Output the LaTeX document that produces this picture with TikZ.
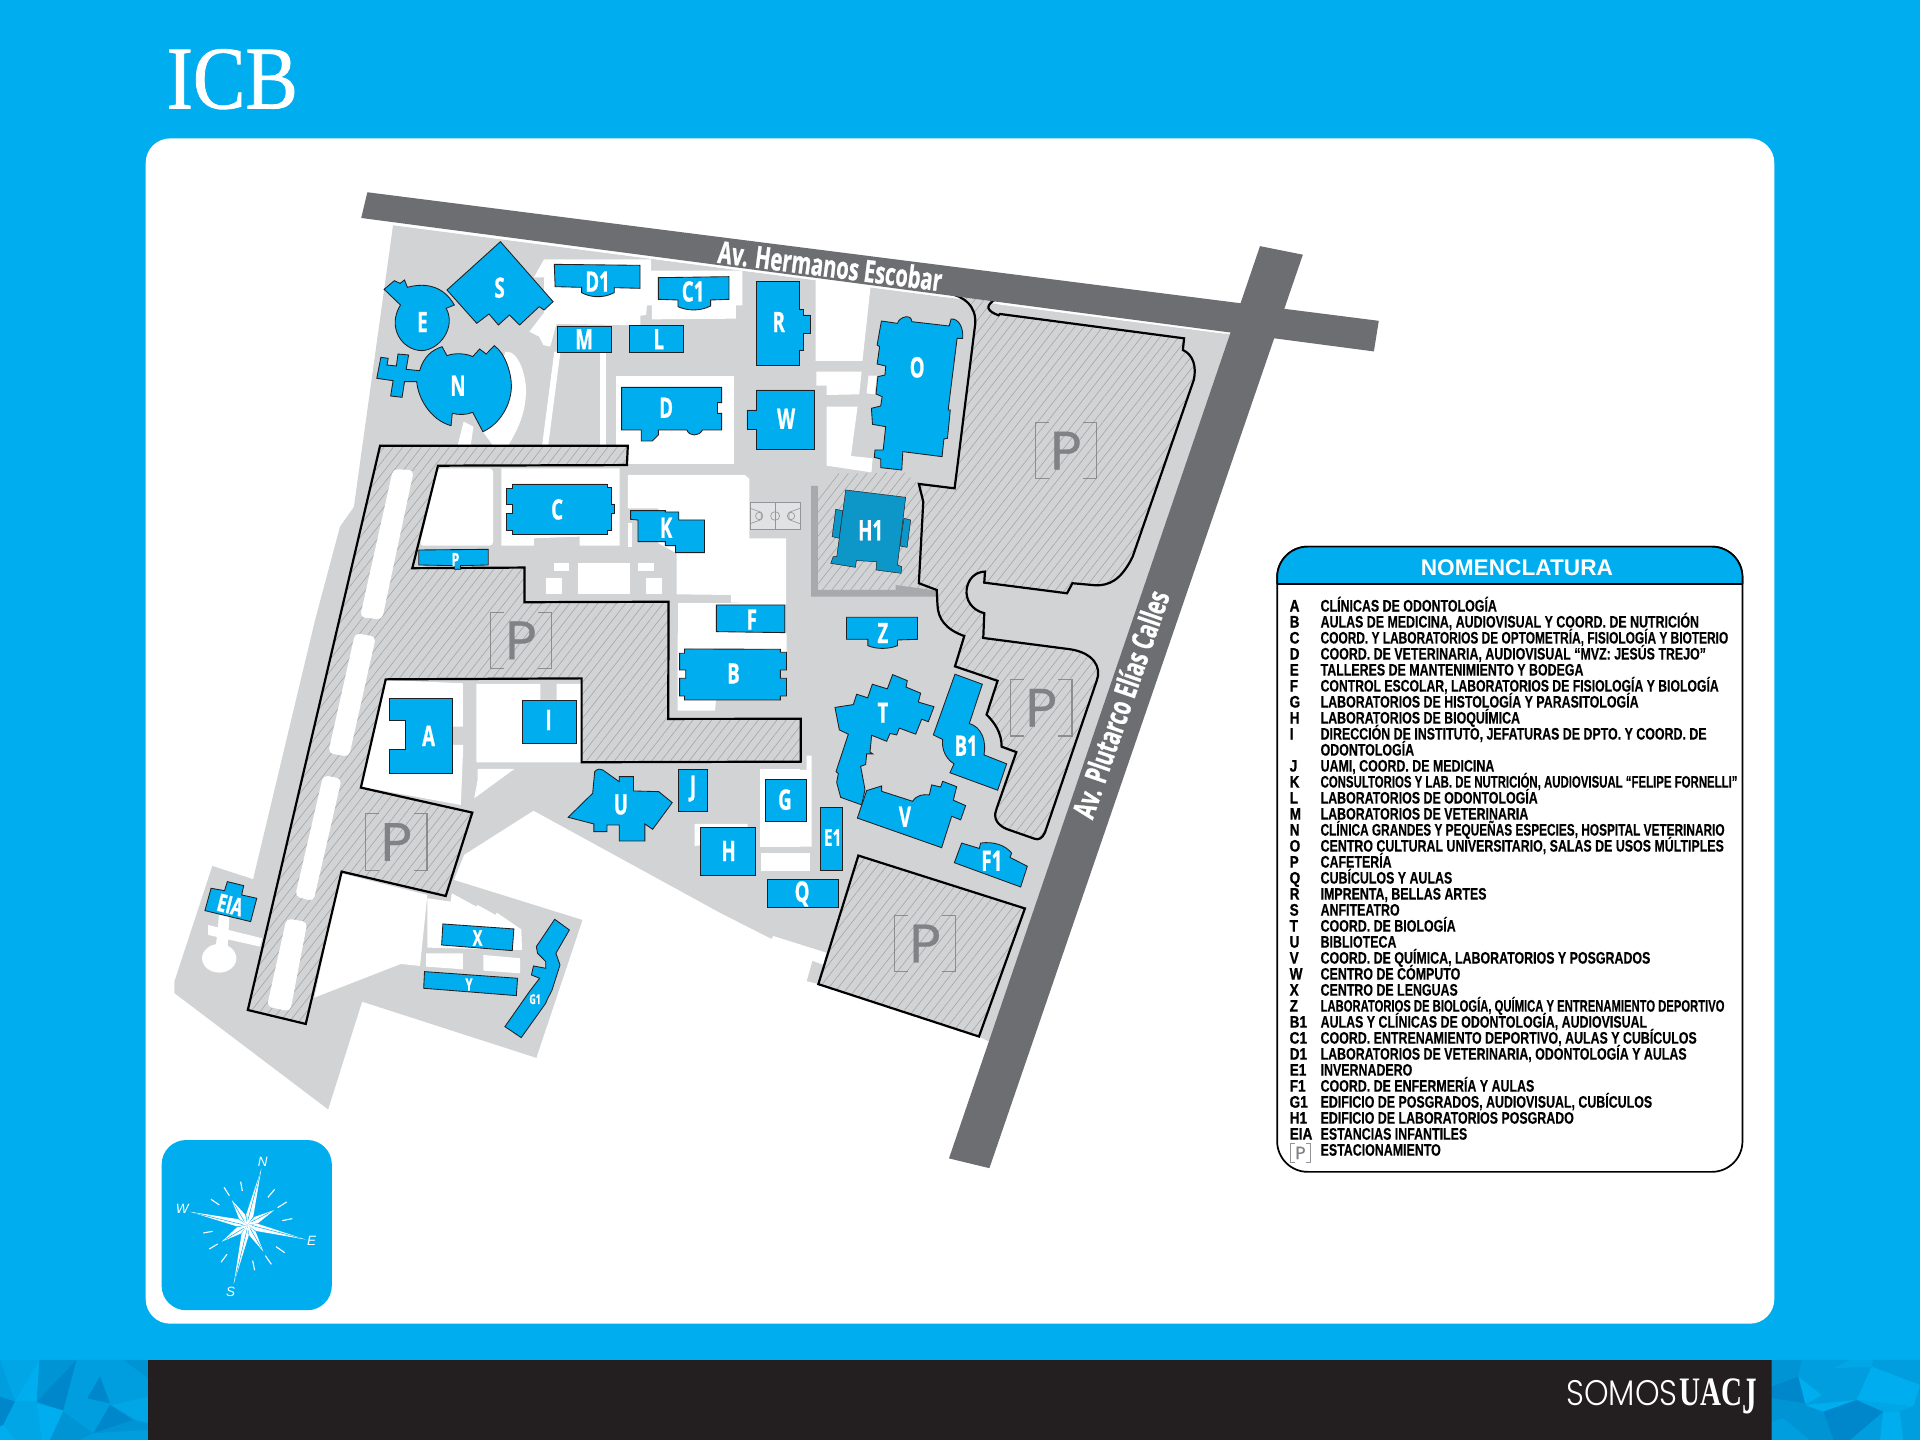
\documentclass[tikz,border=0pt]{standalone}
\usepackage{fontspec}
\usetikzlibrary{patterns.meta}
\setmainfont{Liberation Sans}
\newfontfamily\mapfont[FakeStretch=0.66,FakeBold=0.8]{Open Sans}
\newfontfamily\listfont[FakeStretch=0.745,FakeBold=0.3]{Liberation Sans}
\newfontfamily\keyfont[FakeStretch=0.82,FakeBold=0.8]{Liberation Sans}
\newfontfamily\logofont[FakeStretch=0.88,FakeBold=0.9]{Liberation Serif}
\newfontfamily\uacjfont[FakeStretch=0.72]{Liberation Serif}
\newfontfamily\somosfont[FakeStretch=0.88]{Poppins Light}
\newfontfamily\signfont[FakeBold=0.6]{Poppins}
\newcommand{\rowfit}[2]{\scalebox{#1}[1]{#2}}
\definecolor{campusblue}{HTML}{00AEEF}
\definecolor{annexblue}{HTML}{0D97C9}
\definecolor{sitegray}{HTML}{D1D3D4}
\definecolor{roadgray}{HTML}{6D6E71}
\definecolor{wallgray}{HTML}{A7A9AC}
\definecolor{hatchgray}{HTML}{A4A6A8}
\definecolor{courtgray}{HTML}{939598}
\definecolor{signgray}{HTML}{808285}
\definecolor{barblack}{HTML}{231F20}
\definecolor{facetA}{HTML}{00AEEF}
\definecolor{facetB}{HTML}{00A6E6}
\definecolor{facetC}{HTML}{009EDE}
\definecolor{facetD}{HTML}{0094D5}
\definecolor{facetE}{HTML}{0086CA}
\tikzset{
    lawn/.style={fill=white},
    building/.style={fill=campusblue,draw=barblack,line width=.7pt},
    annex/.style={fill=annexblue,draw=barblack,line width=.4pt},
    hatched/.style={preaction={fill=sitegray},pattern={Lines[angle=52,distance=6pt,line width=.5pt]},pattern color=hatchgray},
    parking/.style={hatched,draw=black,line width=1.8pt,line join=miter},
    strip/.style={fill=white,rounded corners=4pt},
    blocklabel/.style={text=white,font=\mapfont\bfseries\fontsize{23}{23}\selectfont,inner sep=0pt},
    roadlabel/.style={text=white,font=\mapfont\bfseries\fontsize{25}{26}\selectfont,inner sep=0pt},
    legendkey/.style={anchor=base west,inner sep=0pt,font=\keyfont\bfseries\fontsize{13.6}{14}\selectfont},
    legendrow/.style={anchor=base west,inner sep=0pt,font=\listfont\bfseries\fontsize{13.6}{14}\selectfont},
    upperzone/.style={shift={(277.7,147)},xscale=.3333,yscale=.2722},
    lowerzone/.style={shift={(130.7,506.3)},xscale=.3333,yscale=.2722},
    eastzone/.style={shift={(620.7,196)},xscale=.2915,yscale=.2722},
    southzone/.style={shift={(588,506.3)},xscale=.2722,yscale=.2915},
    pics/parksign/.style={code={
        \draw[signgray,line width=1pt,opacity=.85] (-14,-23) -- (-25,-23) -- (-25,23) -- (-14,23);
        \draw[signgray,line width=1pt,opacity=.85] (14,-23) -- (25,-23) -- (25,23) -- (14,23);
        \node[transform shape,text=signgray,inner sep=0pt,font=\signfont\fontsize{44}{44}\selectfont] at (0,0) {P};
    }}
}

\begin{document}
\begin{tikzpicture}[x=1pt,y=-1pt]
    \useasboundingbox (0,0) rectangle (1568,1176);
    \fill[campusblue] (0,0) rectangle (1568,1176);

    % bottom band
    \fill[barblack] (121,1111) rectangle (1447,1176);
    \begin{scope}[shift={(0,1094.3)},scale=.2722]
        \fill[facetC] (0,60) rectangle (444,300);
        \fill[facetC] (0,60) -- (45,185) -- (0,170) -- cycle;
        \fill[facetB] (0,60) -- (118,60) -- (45,185) -- cycle;
        \fill[facetD] (118,60) -- (230,60) -- (110,185) -- cycle;
        \fill[facetE] (230,60) -- (190,212) -- (110,185) -- cycle;
        \fill[facetA] (118,60) -- (110,185) -- (45,185) -- cycle;
        \fill[facetC] (230,60) -- (370,60) -- (340,110) -- (260,170) -- (190,212) -- cycle;
        \fill[facetE] (0,170) -- (45,185) -- (10,255) -- (0,260) -- cycle;
        \fill[facetB] (45,185) -- (110,185) -- (125,300) -- (45,300) -- (10,255) -- cycle;
        \fill[facetA] (110,190) -- (190,212) -- (150,300) -- (125,300) -- cycle;
        \fill[facetD] (190,215) -- (280,280) -- (240,300) -- (150,300) -- cycle;
        \fill[facetA] (0,260) -- (10,255) -- (45,300) -- (0,300) -- cycle;
        \fill[facetE] (300,110) -- (330,190) -- (262,175) -- cycle;
        \fill[facetC] (190,212) -- (330,190) -- (280,280) -- cycle;
        \fill[facetD] (370,60) -- (444,115) -- (444,60) -- cycle;
        \fill[facetC] (370,70) -- (444,115) -- (444,170) -- (335,195) -- cycle;
        \fill[facetB] (335,195) -- (444,170) -- (444,250) -- (410,240) -- cycle;
        \fill[facetE] (330,195) -- (400,240) -- (280,280) -- cycle;
        \fill[facetD] (400,240) -- (444,250) -- (444,270) -- (280,280) -- cycle;
        \fill[facetC] (280,280) -- (444,270) -- (444,300) -- (240,300) -- cycle;
    \end{scope}
    \begin{scope}[shift={(1225,1094.3)},scale=.2722]
        \fill[facetC] (815,60) rectangle (1260,300);
        \fill[facetD] (815,60) -- (905,60) -- (895,110) -- (815,140) -- cycle;
        \fill[facetC] (905,60) -- (1050,60) -- (1000,85) -- (895,110) -- cycle;
        \fill[facetB] (1050,60) -- (1120,60) -- (1115,80) -- (1000,85) -- cycle;
        \fill[facetC] (1120,60) -- (1260,60) -- (1260,135) -- (1115,80) -- cycle;
        \fill[facetA] (1115,80) -- (1260,135) -- (1240,200) -- (1070,180) -- cycle;
        \fill[facetA] (895,110) -- (965,165) -- (915,195) -- cycle;
        \fill[facetE] (815,140) -- (895,110) -- (915,190) -- (815,175) -- cycle;
        \fill[facetD] (815,175) -- (915,190) -- (970,215) -- (850,235) -- (815,245) -- cycle;
        \fill[facetA] (915,195) -- (1070,180) -- (1040,215) -- (970,215) -- cycle;
        \fill[facetE] (970,215) -- (1070,180) -- (1150,215) -- (1050,300) -- (1000,300) -- cycle;
        \fill[facetB] (1070,180) -- (1240,200) -- (1200,215) -- (1150,215) -- cycle;
        \fill[facetA] (1150,215) -- (1200,215) -- (1210,300) -- (1140,300) -- cycle;
        \fill[facetC] (1200,215) -- (1240,200) -- (1260,260) -- (1260,300) -- (1210,300) -- cycle;
        \fill[facetC] (815,245) -- (850,235) -- (930,300) -- (815,300) -- cycle;
        \fill[facetD] (850,235) -- (970,215) -- (1000,300) -- (930,300) -- cycle;
    \end{scope}
    \node[anchor=base west,inner sep=0pt,text=white,font=\somosfont\fontsize{29}{29}\selectfont] (somos) at (1279,1148) {SOMOS};
    \node[anchor=base west,inner sep=0pt,text=white,font=\uacjfont\bfseries\fontsize{33}{33}\selectfont] (uacj) at (1371,1148) {UAC\raisebox{-6pt}{\scalebox{1}[1.3]{J}}};

    % panel and logo
    \fill[white,rounded corners=20pt] (119,113) rectangle (1449,1081);
    \node[anchor=base west,inner sep=0pt,text=white,font=\logofont\fontsize{73}{73}\selectfont] (logo) at (136,88.5) {ICB};

    % site ground
    \fill[sitegray] (321,184) -- (1005,273) -- (809,851) -- (799,846.5) -- (668.3,803.7) -- (675,778)
        -- (631.5,764.3) -- (630,766.7) -- (588,745.4) -- (435.7,662) -- (379,698) -- (370.7,718.6)
        -- (475.7,751.3) -- (438,863.9) -- (295.7,818) -- (268,906) -- (142.4,811) -- (142.4,801.6)
        -- (173.4,707.2) -- (206.7,718) -- (257.4,506) -- (277.7,430) -- (289,414) -- cycle;
    \fill[sitegray] (658.8,801.3) -- (663.5,784.7) -- (675,789) -- (670,804) -- cycle;

    % lawns
    \begin{scope}[upperzone]
        \fill[lawn] (500,238) -- (762,238) -- (762,272) -- (986,272) -- (986,376) -- (970,376) -- (970,416) -- (764,418) -- (764,376) -- (752,376) -- (750,405) -- (736,407) -- (736,436) -- (530,432) -- (515,500) -- (498,495) -- (488,470) -- (464,455) -- (500,398) -- (500,292) -- (475,292) -- cycle;
        \fill[lawn] (525,515) -- (540,515) -- (510,797) -- (495,797) -- cycle;
        \fill[lawn] (638,515) -- (652,515) -- (652,797) -- (638,797) -- cycle;
        \fill[lawn] (405,515) .. controls (440,510) and (460,600) .. (455,650) .. controls (452,710) and (430,760) .. (412,797) -- (375,797) -- (350,755) -- cycle;
        \fill[lawn] (303,725) -- (327,740) -- (320,797) -- (288,797) -- cycle;
        \fill[lawn] (675,587) rectangle (965,853);
        \fill[lawn] (1165,300) -- (1300,318) -- (1280,543) -- (1165,543) -- cycle;
        \fill[lawn] (1167,575) -- (1278,575) -- (1272,643) -- (1192,645) -- (1192,617) -- (1167,617) -- cycle;
        \fill[lawn] (1295,587) -- (1315,587) -- (1310,643) -- (1290,640) -- cycle;
        \fill[lawn] (1192,680) -- (1268,680) -- (1252,828) -- (1305,835) -- (1302,877) -- (1192,857) -- cycle;
        \fill[lawn] (705,885) -- (992,885) -- (1003,897) -- (1003,1075) -- (1093,1075) -- (1093,1270) -- (958,1268) -- (958,1245) -- (825,1243) -- (825,1120) -- (780,1090) -- (780,985) -- (705,985) -- cycle;
        \fill[lawn] (705,1030) rectangle (715,1100);
        \fill[lawn] (827,1268) -- (1093,1268) -- (1093,1455) -- (827,1455) -- cycle;
        \fill[lawn] (395,865) -- (685,865) -- (685,1097) -- (587,1097) -- (587,1070) -- (475,1075) -- (475,1097) -- (395,1097) -- cycle;
        \fill[lawn,rounded corners=3pt] (240,865) -- (375,865) -- (375,1097) -- (195,1097) -- cycle;
        \fill[lawn] (525,1148) rectangle (560,1173);
        \fill[lawn] (582,1148) rectangle (710,1243);
        \fill[lawn] (730,1148) rectangle (770,1173);
        \fill[lawn] (505,1195) rectangle (543,1243);
        \fill[lawn] (750,1195) rectangle (790,1243);
    \end{scope}
    \begin{scope}[lowerzone]
        \fill[lawn] (1268,40) -- (1535,40) -- (1535,110) -- (1362,240) -- (1360,272) -- (1268,272) -- cycle;
        \fill[lawn] (553,180) -- (742,190) -- (742,320) -- (716,320) -- (716,375) -- (743,375) -- (737,555) -- (492,500) -- cycle;
        \fill[lawn] (775,192) -- (932,192) -- (932,240) -- (972,240) -- (972,192) -- (1033,192) -- (1033,427) -- (775,427) -- cycle;
        \fill[lawn] (778,447) -- (868,447) -- (770,535) -- (778,480) -- cycle;
        \fill[lawn] (443,760) -- (378,1133) -- (590,1032) -- (637,1038) -- (655,825) -- cycle;
        \fill[lawn] (655,835) -- (712,845) -- (715,820) -- (775,860) -- (778,855) -- (822,885) -- (825,878) -- (885,928) -- (887,990) -- (655,983) -- cycle;
        \fill[lawn] (652,1000) -- (742,1000) -- (742,1048) -- (652,1040) -- cycle;
        \fill[lawn] (792,1005) -- (882,1015) -- (882,1060) -- (792,1052) -- cycle;
        \fill[lawn] (145,1015) circle[x radius=42,y radius=43];
        \fill[lawn] (118,915) -- (250,955) -- (245,980) -- (118,945) -- cycle;
        \fill[lawn] (145,880) -- (170,885) -- (165,1000) -- (135,1000) -- cycle;
        \fill[lawn] (1310,612) -- (1440,612) -- (1440,660) -- (1310,678) -- cycle;
        \fill[lawn] (1470,448) -- (1568,448) -- (1568,682) -- (1470,682) -- cycle;
        \fill[lawn] (1472,698) -- (1568,698) -- (1568,752) -- (1472,752) -- cycle;
    \end{scope}
    \begin{scope}[southzone]
        \fill[lawn] (122,420) -- (260,420) -- (260,380) -- (275,380) -- (275,635) -- (122,635) -- cycle;
        \fill[lawn] (122,652) -- (270,652) -- (270,702) -- (122,702) -- cycle;
    \end{scope}

    % annex yard
    \begin{scope}[eastzone]
        \fill[hatched] (162,770) -- (215,700) -- (316,700) -- (400,692) -- (445,735) -- (458,785) -- (445,1030) -- (495,1052) -- (380,1035) -- (380,1050) -- (162,1050) -- cycle;
        \fill[wallgray] (143,738) -- (162,738) -- (162,1050) -- (380,1050) -- (380,1035) -- (495,1052) -- (495,1070) -- (143,1070) -- cycle;
    \end{scope}

    % parkings
    \draw[parking] (310.4,364) -- (512.7,364) -- (512,379.8) -- (357.7,380.3) -- (336.7,464) -- (428.4,463.5)
        -- (428.4,491.8) -- (546,491.4) -- (545.7,587.1) -- (654,587) -- (654,622) -- (475,622.5) -- (475,554)
        -- (315,554.8) -- (294.7,643.2) -- (385.7,663.6) -- (364,731.7) -- (279,711.8) -- (249.7,836.2)
        -- (202.4,824.8) -- cycle;
    \fill[strip] (321,383) -- (338,384) -- (312,506) -- (294,504) -- cycle;
    \fill[strip] (290,517) -- (307,520) -- (285,618) -- (268,615) -- cycle;
    \fill[strip] (264,633) -- (279,636) -- (256,736) -- (241,732) -- cycle;
    \fill[strip] (234,750) -- (251,753) -- (237,826) -- (218,822) -- cycle;
    \draw[parking] (773.8,239.5) -- (813,244.4) .. controls (804,250) and (806,254) .. (815.5,257.5)
        -- (816.6,256.4) -- (967,276.3) -- (966,285.8) .. controls (975,290) and (977,300) .. (975,310)
        -- (925,454.6) .. controls (915,475) and (905,478) .. (895,478) -- (875.8,476.3) -- (871.4,484.5)
        -- (803.8,475.8) -- (804.4,466.8) .. controls (787,467) and (782,495) .. (803.8,500.8)
        -- (803,521) -- (873.8,530.2) .. controls (893,533) and (900,545) .. (895.6,556)
        -- (853.4,679.8) .. controls (851,685) and (848,686) .. (845,685) -- (822,677)
        .. controls (811,672) and (812,665) .. (814,660) -- (830,614.2) -- (818,609.8)
        .. controls (818,598) and (812,590) .. (805.7,583.6) -- (814.7,556) -- (779.9,544.2)
        -- (787.5,519.4) .. controls (772,514) and (766,505) .. (765.6,494) -- (765,481.8) -- (750.4,476.3)
        -- (754,409.7) -- (750.4,395.2) -- (779.6,398.8) -- (796.5,264) .. controls (797,250) and (788,242) .. (773.8,239.5) -- cycle;
    \draw[parking] (701,698.7) -- (837,741.9) -- (799.5,846.5) -- (668.3,803.7) -- cycle;

    % roads
    \draw[white,line width=1pt] (321,183) -- (775,242.5);
    \draw[white,line width=1pt] (815,248) -- (1000,272);
    \fill[roadgray] (300,157) -- (1126,262) -- (1122,287) -- (295,178) -- cycle;
    \fill[roadgray] (1029,201) -- (1064,208) -- (808,954) -- (775,946) -- cycle;

    % court
    \begin{scope}[upperzone,line width=.5pt,draw=courtgray]
        \draw[fill=white,fill opacity=.35] (1005,968) rectangle (1127,1047);
        \draw (1066,968) -- (1066,1047);
        \draw (1066,1008) circle[x radius=11,y radius=13];
        \draw (1005,985) -- (1032,997) -- (1032,1019) -- (1005,1031);
        \draw (1127,985) -- (1100,997) -- (1100,1019) -- (1127,1031);
        \draw (1027,1008) circle[x radius=9,y radius=11];
        \draw (1105,1008) circle[x radius=9,y radius=11];
    \end{scope}

    % buildings
    \begin{scope}[upperzone]
        \draw[building] (393,185) -- (522,365) -- (500,390) -- (488,380) -- (440,435) -- (415,405) -- (388,435) -- (365,402) -- (335,430) -- (262,330) -- cycle;
        \draw[building] (108,328) -- (133,302) -- (147,310) -- (158,300) -- (165,322) .. controls (200,310) and (250,310) .. (280,375) -- (260,385) .. controls (285,440) and (245,510) .. (200,512) .. controls (150,510) and (115,440) .. (148,375) -- cycle;
        \draw[building] (525,253) -- (735,256) -- (735,325) -- (672,323) -- (672,338) .. controls (640,358) and (610,350) .. (592,338) -- (592,322) -- (527,320) -- cycle;
        \draw[building] (780,293) -- (953,290) -- (953,358) -- (908,360) -- (908,378) .. controls (880,395) and (850,392) .. (828,380) -- (828,360) -- (780,358) -- cycle;
        \draw[building] (533,438) rectangle (664,516);
        \draw[building] (710,437) rectangle (842,516);
        \draw[building] (1020,303) -- (1125,303) -- (1125,388) -- (1135,388) -- (1135,405) -- (1153,405) -- (1153,460) -- (1135,460) -- (1135,510) -- (1125,510) -- (1125,556) -- (1020,556) -- cycle;
        \draw[building] (90,595) -- (100,532) -- (118,535) -- (115,555) -- (138,558) -- (142,522) -- (168,525) -- (162,568) -- (195,572) .. controls (205,530) and (225,510) .. (250,500) -- (262,527) .. controls (280,518) and (310,520) .. (325,530) -- (342,507) -- (358,522) -- (378,497) .. controls (405,520) and (420,580) .. (420,620) .. controls (418,690) and (380,740) .. (350,755) -- (325,697) .. controls (310,705) and (290,705) .. (275,700) -- (272,737) .. controls (220,720) and (190,650) .. (188,605) -- (158,605) -- (152,652) -- (124,648) -- (130,602) -- cycle;
        \draw[building] (690,622) -- (935,622) -- (935,668) -- (925,668) -- (925,700) -- (935,700) -- (935,750) -- (888,750) .. controls (880,770) and (855,770) .. (850,750) -- (780,750) -- (780,765) -- (765,783) -- (738,783) -- (738,750) -- (690,750) -- cycle;
        \draw[building] (1020,630) -- (1163,630) -- (1163,807) -- (1020,807) -- (1020,747) -- (997,747) -- (997,690) -- (1020,690) -- cycle;
        \draw[building] (422,912) -- (655,912) -- (655,922) -- (665,922) -- (665,972) -- (672,972) -- (672,1000) -- (665,1000) -- (665,1050) -- (655,1050) -- (655,1063) -- (422,1063) -- (422,1050) -- (408,1050) -- (408,1000) -- (422,1000) -- (422,972) -- (408,972) -- (408,925) -- (422,925) -- cycle;
        \draw[building] (712,992) -- (797,992) -- (797,996) -- (830,996) -- (830,1020) -- (893,1020) -- (893,1118) -- (822,1118) -- (822,1097) -- (797,1097) -- (797,1085) -- (730,1085) -- (730,1020) -- (712,1018) -- cycle;
        \draw[building] (193,1110) -- (363,1108) -- (363,1155) -- (295,1157) -- (295,1168) -- (280,1168) -- (280,1157) -- (193,1155) -- cycle;
        \draw[building] (922,1275) -- (1090,1275) -- (1090,1358) -- (922,1355) -- cycle;
    \end{scope}
    \begin{scope}[eastzone]
        \draw[building] (340,243) -- (385,250) .. controls (390,230) and (425,220) .. (425,245) -- (530,258) -- (535,237) .. controls (555,235) and (570,260) .. (568,295) -- (552,295) -- (527,510) -- (533,510) -- (525,595) -- (515,597) -- (510,650) -- (400,635) -- (397,690) -- (338,683) -- (338,657) -- (320,652) -- (322,630) -- (345,630) -- (352,560) -- (315,553) -- (312,505) -- (338,498) -- (342,470) -- (325,462) -- (330,410) -- (350,405) -- (352,378) -- (328,372) -- (335,320) -- (328,315) -- cycle;
        \draw[annex] (212,808) -- (232,812) -- (222,895) -- (202,890) -- cycle;
        \draw[annex] (403,835) -- (422,840) -- (412,922) -- (392,918) -- cycle;
        \draw[annex] (240,750) -- (408,772) -- (385,975) -- (397,980) -- (395,1000) -- (325,990) -- (327,965) -- (270,962) -- (267,982) -- (198,970) -- (205,950) -- (215,950) -- cycle;
        \draw[building] (242,1132) -- (441,1132) -- (441,1198) -- (385,1200) -- (385,1217) .. controls (360,1228) and (325,1228) .. (302,1217) -- (302,1198) -- (242,1198) -- cycle;
    \end{scope}
    \begin{scope}[lowerzone]
        \draw[building] (1285,87) -- (1520,88) -- (1520,97) -- (1535,97) -- (1535,150) -- (1520,150) -- (1520,175) -- (1535,175) -- (1535,228) -- (1520,228) -- (1520,240) -- (1285,240) -- (1285,228) -- (1273,228) -- (1273,175) -- (1288,175) -- (1288,150) -- (1273,150) -- (1273,100) -- (1285,100) -- cycle;
        \draw[building] (563,235) -- (716,235) -- (716,460) -- (562,460) -- (562,388) -- (602,388) -- (602,300) -- (563,300) -- cycle;
        \draw[building] (887,240) rectangle (1020,370);
        \draw[building] (1000,592) -- (1060,520) -- (1065,455) .. controls (1072,445) and (1080,447) .. (1085,450) -- (1125,485) -- (1125,470) -- (1160,470) -- (1160,513) -- (1222,515) -- (1255,548) -- (1207,628) -- (1188,612) -- (1188,663) -- (1125,663) -- (1125,615) -- (1095,615) -- (1095,635) -- (1063,635) -- (1063,612) -- cycle;
        \draw[building] (1270,448) rectangle (1340,575);
        \draw[building] (1325,623) rectangle (1460,767);
        \draw[building] (693,912) -- (867,927) -- (863,992) -- (690,975) -- cycle;
        \draw[building] (648,1055) -- (876,1075) -- (873,1127) -- (646,1105) -- cycle;
        \draw[building] (967,898) -- (1003,930) -- (970,1000) -- (980,1035) -- (960,1112) -- (950,1135) -- (945,1150) -- (885,1253) -- (845,1220) -- (905,1115) -- (930,1075) -- (910,1065) -- (915,1038) -- (945,1045) -- (945,1025) -- (925,1000) -- (922,980) -- cycle;
        \draw[building] (125,805) -- (158,812) -- (165,785) -- (205,797) -- (200,825) -- (237,835) -- (222,905) -- (110,872) -- cycle;
    \end{scope}
    \begin{scope}[southzone]
        \draw[building] (135,448) rectangle (258,565);
        \draw[building] (143,728) rectangle (354,805);
        \draw[building] (302,525) rectangle (366,703);
        \draw[building] (345,245) -- (400,237) -- (410,208) -- (443,218) -- (457,180) -- (502,193) -- (518,153) -- (562,170) -- (558,188) -- (602,205) -- (595,230) -- (642,243) -- (625,285) -- (605,278) -- (587,320) -- (538,303) -- (530,322) -- (510,318) -- (500,340) -- (455,323) -- (450,370) -- (458,375) -- (440,375) -- (437,405) -- (422,410) -- (435,475) -- (425,518) -- (362,497) -- (350,455) -- (355,430) -- (348,425) -- (385,320) -- (358,308) -- cycle;
        \draw[building] (412,555) -- (440,478) -- (485,465) -- (485,480) -- (578,508) .. controls (590,490) and (610,488) .. (628,490) -- (635,462) -- (662,468) -- (668,452) -- (710,467) -- (700,505) -- (737,520) -- (722,560) -- (695,550) -- (665,638) -- cycle;
        \draw[building] (705,152) -- (787,180) -- (748,290) .. controls (785,300) and (800,340) .. (792,378) -- (860,403) -- (833,477) -- (690,428) -- (702,403) .. controls (670,385) and (665,350) .. (668,335) -- (640,322) -- cycle;
        \draw[building] (725,625) -- (778,640) -- (782,625) .. controls (820,620) and (855,630) .. (875,653) -- (870,665) -- (922,690) -- (902,748) -- (703,680) -- cycle;
    \end{scope}

    % building labels
    \node[blocklabel] (labS) at (408,235) {S};
    \node[blocklabel] (labDa) at (488,230) {D1};
    \node[blocklabel] (labCa) at (566,238) {C1};
    \node[blocklabel] (labE) at (345,263) {E};
    \node[blocklabel] (labM) at (477,277) {M};
    \node[blocklabel] (labL) at (538,277) {L};
    \node[blocklabel] (labR) at (636,263) {R};
    \node[blocklabel] (labN) at (374,315) {N};
    \node[blocklabel] (labO) at (749,300) {O};
    \node[blocklabel] (labD) at (544,333) {D};
    \node[blocklabel] (labW) at (642,342) {W};
    \node[blocklabel] (labC) at (455,416) {C};
    \node[blocklabel] (labK) at (544,431) {K};
    \node[blocklabel,font=\mapfont\bfseries\fontsize{15}{15}\selectfont] (labP) at (372,457) {P};
    \node[blocklabel] (labHa) at (711,433) {H1};
    \node[blocklabel] (labF) at (614,506) {F};
    \node[blocklabel] (labZ) at (721,517) {Z};
    \node[blocklabel] (labB) at (599,550) {B};
    \node[blocklabel] (labA) at (350,601) {A};
    \node[blocklabel] (labI) at (448,588) {I};
    \node[blocklabel] (labT) at (721,582) {T};
    \node[blocklabel] (labBa) at (789,609) {B1};
    \node[blocklabel] (labJ) at (566,644) {J};
    \node[blocklabel] (labG) at (641,653) {G};
    \node[blocklabel] (labU) at (507,657) {U};
    \node[blocklabel] (labV) at (739,667) {V};
    \node[blocklabel,font=\mapfont\bfseries\fontsize{19}{19}\selectfont] (labEa) at (680,684) {E1};
    \node[blocklabel] (labH) at (595,695) {H};
    \node[blocklabel] (labFa) at (810,703) {F1};
    \node[blocklabel] (labQ) at (655,730) {Q};
    \node[blocklabel,rotate=-14,font=\mapfont\bfseries\fontsize{20}{20}\selectfont] (labEIA) at (188,739) {EIA};
    \node[blocklabel,font=\mapfont\bfseries\fontsize{18}{18}\selectfont] (labX) at (390,766) {X};
    \node[blocklabel,font=\mapfont\bfseries\fontsize{14}{14}\selectfont] (labY) at (383,804) {Y};
    \node[blocklabel,font=\mapfont\bfseries\fontsize{11}{11}\selectfont] (labGa) at (437,816) {G1};
    \node[roadlabel,rotate=-7.3] (streetA) at (678,217) {Av. Hermanos Escobar};
    \node[roadlabel,rotate=71] (streetB) at (915,575) {Av. Plutarco Elías Calles};

    % parking signs
    \pic at (870.5,368) {parksign};
    \pic at (425.5,523) {parksign};
    \pic at (850.4,578) {parksign};
    \pic at (323.7,687.6) {parksign};
    \pic at (755.6,770.5) {parksign};

    % legend
    \draw[black,line width=1.4pt,fill=white,rounded corners=25pt] (1043,446.4) rectangle (1423,957);
    \fill[campusblue] (1043,477) [rounded corners=25pt] -- (1043,446.4) -- (1423,446.4) [sharp corners] -- (1423,477) -- cycle;
    \draw[black,line width=1.4pt,rounded corners=25pt] (1043,477) -- (1043,446.4) -- (1423,446.4) [sharp corners] -- (1423,477);
    \draw[black,line width=1.4pt] (1043,477) -- (1423,477);
    \node[text=white,font=\bfseries\fontsize{18.5}{19}\selectfont,inner sep=0pt] (legendtitle) at (1238.8,463.3) {NOMENCLATURA};
    \foreach \key/\txt [count=\i] in {
        A/{CLÍNICAS DE ODONTOLOGÍA},
        B/{AULAS DE MEDICINA, AUDIOVISUAL Y COORD. DE NUTRICIÓN},
        C/{\rowfit{.96}{COORD. Y LABORATORIOS DE OPTOMETRÍA, FISIOLOGÍA Y BIOTERIO}},
        D/{COORD. DE VETERINARIA, AUDIOVISUAL “MVZ: JESÚS TREJO”},
        E/{TALLERES DE MANTENIMIENTO Y BODEGA},
        F/{\rowfit{.985}{CONTROL ESCOLAR, LABORATORIOS DE FISIOLOGÍA Y BIOLOGÍA}},
        G/{LABORATORIOS DE HISTOLOGÍA Y PARASITOLOGÍA},
        H/{LABORATORIOS DE BIOQUÍMICA},
        I/{DIRECCIÓN DE INSTITUTO, JEFATURAS DE DPTO. Y COORD. DE},
        /{ODONTOLOGÍA},
        J/{UAMI, COORD. DE MEDICINA},
        K/{\rowfit{.92}{CONSULTORIOS Y LAB. DE NUTRICIÓN, AUDIOVISUAL “FELIPE FORNELLI”}},
        L/{LABORATORIOS DE ODONTOLOGÍA},
        M/{LABORATORIOS DE VETERINARIA},
        N/{\rowfit{.955}{CLÍNICA GRANDES Y PEQUEÑAS ESPECIES, HOSPITAL VETERINARIO}},
        O/{CENTRO CULTURAL UNIVERSITARIO, SALAS DE USOS MÚLTIPLES},
        P/{CAFETERÍA},
        Q/{CUBÍCULOS Y AULAS},
        R/{IMPRENTA, BELLAS ARTES},
        S/{ANFITEATRO},
        T/{COORD. DE BIOLOGÍA},
        U/{BIBLIOTECA},
        V/{COORD. DE QUÍMICA, LABORATORIOS Y POSGRADOS},
        W/{CENTRO DE CÓMPUTO},
        X/{CENTRO DE LENGUAS},
        Z/{\rowfit{.907}{LABORATORIOS DE BIOLOGÍA, QUÍMICA Y ENTRENAMIENTO DEPORTIVO}},
        B1/{AULAS Y CLÍNICAS DE ODONTOLOGÍA, AUDIOVISUAL},
        C1/{COORD. ENTRENAMIENTO DEPORTIVO, AULAS Y CUBÍCULOS},
        D1/{LABORATORIOS DE VETERINARIA, ODONTOLOGÍA Y AULAS},
        E1/{INVERNADERO},
        F1/{COORD. DE ENFERMERÍA Y AULAS},
        G1/{EDIFICIO DE POSGRADOS, AUDIOVISUAL, CUBÍCULOS},
        H1/{EDIFICIO DE LABORATORIOS POSGRADO},
        EIA/{ESTANCIAS INFANTILES},
        /{ESTACIONAMIENTO}
    } {
        \node[legendkey] (key\i) at (1053,{499.4+13.07*(\i-1)}) {\key};
        \node[legendrow] (row\i) at (1078.3,{499.4+13.07*(\i-1)}) {\txt};
    }
    \pic[scale=.33] at (1062,941.5) {parksign};

    % compass
    \fill[campusblue,rounded corners=20pt] (132,931) rectangle (271,1070);
    \foreach \ang/\len in {76/175,-14/180,-103/182,167/177,29/92,122/88,213/92,-59/93} {
        \begin{scope}[shift={(202,1000.4)},scale=.2722,rotate=\ang]
            \fill[white] (0,0) -- (30,-11) -- (\len,0) -- (30,11) -- cycle;
            \draw[campusblue,line width=.4pt] (14,-2) -- (\len-16,-.5);
        \end{scope}
    }
    \begin{scope}[shift={(122.5,922.8)},scale=.2722]
        \foreach \xa/\ya/\xb/\yb in {272/155/277/183,222/172/238/197,183/208/208/225,160/309/188/304,178/357/203/342,213/397/231/373,308/392/314/421,346/377/364/403,378/350/404/368,397/272/427/266,383/233/410/216,354/202/374/178}
            \draw[white,line width=.9pt] (\xa,\ya) -- (\xb,\yb);
        \node[text=white,inner sep=0pt,font=\itshape\fontsize{11}{11}\selectfont] (north) at (338,96) {N};
        \node[text=white,inner sep=0pt,font=\itshape\fontsize{11}{11}\selectfont] (south) at (242,485) {S};
        \node[text=white,inner sep=0pt,font=\itshape\fontsize{11}{11}\selectfont] (west) at (97,238) {W};
        \node[text=white,inner sep=0pt,font=\itshape\fontsize{11}{11}\selectfont] (east) at (485,333) {E};
    \end{scope}
\end{tikzpicture}
\end{document}
